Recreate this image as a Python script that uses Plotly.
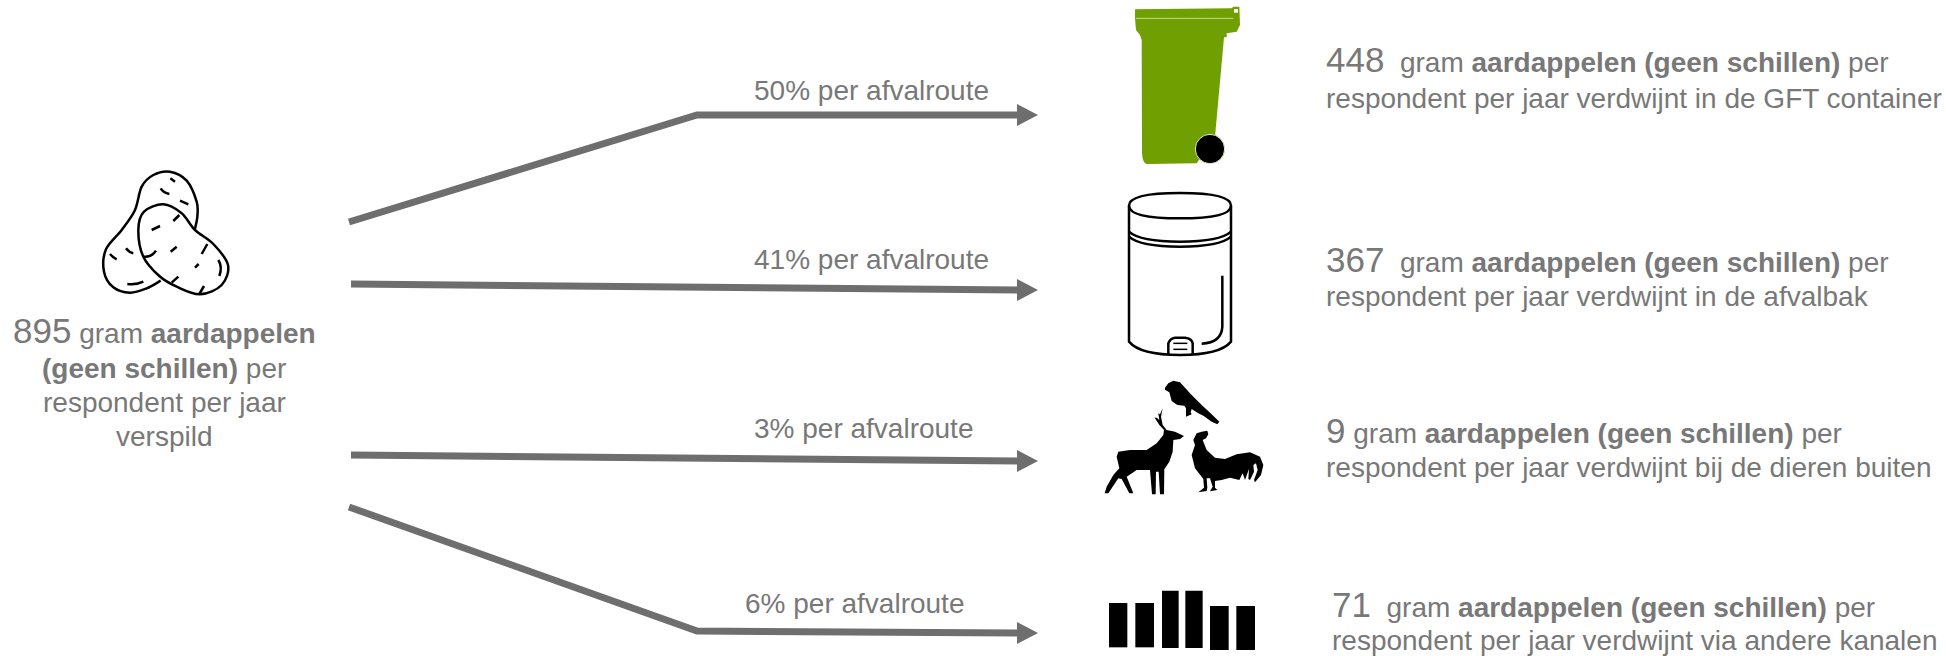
import re
import plotly.graph_objects as go

W, H = 1946, 656
GREY = "#787878"
LINE = "#6e6e6e"
GREEN = "#6f9f00"

# values
total_gram = 895
route_gram = [448, 367, 9, 71]
route_pct = [50, 41, 3, 6]
route_end = [
    "respondent per jaar verdwijnt in de GFT container",
    "respondent per jaar verdwijnt in de afvalbak",
    "respondent per jaar verdwijnt bij de dieren buiten",
    "respondent per jaar verdwijnt via andere kanalen",
]
left_lines = ["(geen schillen)", "respondent per jaar", "verspild"]

# arrows in page pixels
arrow_x = [[349, 697, 1020], [351, 1020], [351, 1020], [349, 697, 1020]]
arrow_y = [[222, 115, 115], [284, 290], [455, 461], [507, 631, 633]]
arrow_tip = [(1038, 115), (1038, 290), (1038, 461), (1038, 633)]
text_x = [1324, 1324, 1324, 1330]
text_y = [59, 259, 430, 604]
text2_y = [98, 296, 467, 640]
num_gap = ["&nbsp; ", "&nbsp; ", " ", "&nbsp; "]
label_x = [752, 752, 752, 743]
label_y = [90, 259, 428, 603]

shapes = []


def conv(d, ox, oy, k=3):
    # path string in zoomed crop coords -> page pixels
    nums = iter(re.findall(r"-?\d+\.?\d*|[A-Za-z]", d))
    out, is_x = [], True
    for tok in nums:
        if tok.isalpha():
            out.append(tok)
            is_x = True
        else:
            val = float(tok) / k + (ox if is_x else oy)
            out.append(f"{val:.2f}")
            is_x = not is_x
    return " ".join(out)


def add(d, ox, oy, fill=None, line=None, lw=2.5):
    shapes.append(dict(
        type="path", xref="x", yref="y", path=conv(d, ox, oy),
        fillcolor=fill if fill else "rgba(0,0,0,0)",
        line=dict(color=line if line else "rgba(0,0,0,0)", width=lw if line else 0),
        layer="above",
    ))


def smooth(pts, closed=False):
    # catmull-rom through the points, as cubic segments
    n = len(pts)
    d = f"M {pts[0][0]} {pts[0][1]}"
    last = n if closed else n - 1
    for i in range(last):
        if closed:
            p0, p1, p2, p3 = pts[(i - 1) % n], pts[i], pts[(i + 1) % n], pts[(i + 2) % n]
        else:
            p0, p1, p2, p3 = pts[max(i - 1, 0)], pts[i], pts[i + 1], pts[min(i + 2, n - 1)]
        c1 = (p1[0] + (p2[0] - p0[0]) / 6, p1[1] + (p2[1] - p0[1]) / 6)
        c2 = (p2[0] - (p3[0] - p1[0]) / 6, p2[1] - (p3[1] - p1[1]) / 6)
        d += f" C {c1[0]:.1f} {c1[1]:.1f} {c2[0]:.1f} {c2[1]:.1f} {p2[0]} {p2[1]}"
    return d + (" Z" if closed else "")


def poly(pts):
    return "M " + " L ".join(f"{x} {y}" for x, y in pts) + " Z"


# potatoes
pot_back = [(482, 392), (440, 415), (390, 428), (340, 412), (312, 365), (318, 298), (365, 240), (405, 180),
            (425, 110), (460, 75), (510, 65), (560, 92), (590, 155), (592, 200), (584, 240)]
pot_front = [(415, 240), (432, 185), (490, 163), (545, 190), (585, 240), (640, 282), (684, 345), (665, 405),
             (600, 433), (530, 410), (478, 378), (430, 320)]
add(smooth(pot_back), 0, 150, line="black")
add(smooth(pot_front, closed=True), 0, 150, line="black")
specks = [
    "M 511 85 L 525 95", "M 482 115 Q 490 128 508 132", "M 540 152 L 565 163", "M 455 240 L 480 228",
    "M 378 295 Q 388 308 400 310", "M 330 312 Q 338 322 350 328", "M 382 402 Q 410 405 430 395",
    "M 520 213 L 538 195", "M 432 320 Q 455 322 468 302", "M 512 305 L 530 290", "M 605 312 L 622 282",
    "M 585 353 L 596 342", "M 655 330 Q 668 350 658 378", "M 515 398 L 535 380", "M 598 432 L 612 408",
]
for s in specks:
    add(s, 0, 150, line="black")

# green bin
add("M 135 28 L 425 25 L 430 20 L 448 20 L 450 75 L 440 95 L 410 100 L 410 112 L 402 112 L 375 410 L 320 490 "
    "L 170 492 Q 158 490 156 460 L 155 120 L 150 105 L 138 90 L 135 55 Z", 1090, 0, fill=GREEN)
add("M 137 55 L 430 55", 1090, 0, line="#c5d89a", lw=1)
add("M 432 27 L 444 27 L 444 38 L 432 38 Z", 1090, 0, fill="white")
shapes.append(dict(type="circle", xref="x", yref="y", x0=1090 + 316 / 3, x1=1090 + 404 / 3, y0=403 / 3, y1=491 / 3,
                   fillcolor="black", line=dict(color="#e6efd0", width=1), layer="above"))

# trash can
add("M 117 77 Q 117 39 270 39 Q 423 39 423 77 Q 423 115 270 115 Q 117 115 117 77 Z", 1090, 180, line="black")
add("M 117 77 L 117 485 Q 150 525 270 525 Q 390 525 423 485 L 423 77", 1090, 180, line="black")
add("M 117 155 Q 150 185 270 185 Q 390 185 423 155", 1090, 180, line="black")
add("M 117 170 Q 150 200 270 200 Q 390 200 423 170", 1090, 180, line="black")
add("M 397 287 L 397 440 Q 395 488 335 491", 1090, 180, line="black")
add("M 235 522 L 235 490 Q 240 475 255 473 L 285 473 Q 305 475 308 490 L 308 522", 1090, 180, line="black")
add("M 250 490 L 292 490", 1090, 180, line="black", lw=1.5)
add("M 250 508 L 292 508", 1090, 180, line="black", lw=1.5)

# animals
bird = [(195, 38), (205, 25), (220, 17), (240, 22), (255, 38), (275, 60), (305, 90), (335, 118), (358, 140), (352, 148),
        (335, 140), (310, 122), (295, 115), (275, 102), (272, 112), (275, 118), (258, 125), (258, 100), (253, 92),
        (232, 90), (215, 78), (208, 52), (195, 44)]
deer = [(14, 355), (20, 335), (40, 300), (58, 280), (50, 245), (55, 230), (90, 225), (140, 225), (170, 205), (190, 180),
        (192, 165), (178, 150), (165, 130), (162, 128), (170, 128), (178, 135), (175, 115), (180, 118), (188, 100),
        (183, 125), (188, 150), (200, 165), (225, 170), (252, 183), (240, 192), (220, 195), (218, 230), (208, 260),
        (193, 283), (192, 358), (180, 358), (176, 290), (168, 290), (167, 358), (156, 358), (150, 285), (110, 285),
        (80, 305), (100, 355), (88, 355), (65, 312), (55, 310), (25, 355)]
rooster = [(280, 195), (290, 175), (305, 170), (322, 167), (325, 178), (318, 190), (308, 195), (320, 225), (345, 248),
           (375, 252), (410, 238), (450, 232), (480, 245), (490, 270), (483, 300), (465, 322), (462, 315), (473, 285),
           (468, 265), (460, 270), (462, 290), (450, 315), (445, 312), (447, 282), (435, 315), (428, 295), (418, 315),
           (390, 308), (365, 315), (345, 318), (345, 338), (352, 345), (330, 349), (338, 335), (330, 310), (320, 310),
           (322, 338), (320, 348), (295, 352), (312, 338), (310, 312), (285, 280), (275, 240), (285, 210)]
for part in (bird, deer, rooster):
    add(poly(part), 1100, 375, fill="black")

# bars icon
bars = [(57, 112, 699, 832), (136, 192, 699, 832), (216, 266, 662, 834), (286, 338, 662, 834), (360, 416, 708, 840),
        (439, 495, 708, 840)]
for x0, x1, y0, y1 in bars:
    add(f"M {x0} {y0} L {x1} {y0} L {x1} {y1} L {x0} {y1} Z", 1090, 370, fill="black")

fig = go.Figure()

for xs, ys, tip in zip(arrow_x, arrow_y, arrow_tip):
    fig.add_trace(go.Scatter(x=xs, y=ys, mode="lines", hoverinfo="skip", showlegend=False,
                             line=dict(color=LINE, width=7, shape="linear")))
    shapes.append(dict(
        type="path", xref="x", yref="y", layer="above",
        path=f"M {tip[0]} {tip[1]} L {tip[0] - 21} {tip[1] - 11} L {tip[0] - 21} {tip[1] + 11} Z",
        fillcolor=LINE, line=dict(width=0),
    ))


def note(x, y, text, anchor="left", size=28):
    fig.add_annotation(x=x, y=y, xref="x", yref="y", text=text, showarrow=False, xanchor=anchor, yanchor="middle",
                       align=anchor, font=dict(family="Liberation Sans", size=size, color=GREY))


def big(n):
    return f'<span style="font-size:35px">{n}</span>'


for i in range(4):
    note(text_x[i], text_y[i], f"{big(route_gram[i])}{num_gap[i]}gram <b>aardappelen (geen schillen)</b> per")
    note(text_x[i], text2_y[i], route_end[i])
    note(label_x[i], label_y[i], f"{route_pct[i]}% per afvalroute")

note(164, 330, f"{big(total_gram)} gram <b>aardappelen</b>", anchor="center")
note(164, 368, f"<b>{left_lines[0]}</b> per", anchor="center")
note(164, 402, left_lines[1], anchor="center")
note(164, 436, left_lines[2], anchor="center")

fig.update_layout(
    width=W, height=H,
    margin=dict(l=0, r=0, t=0, b=0),
    paper_bgcolor="white", plot_bgcolor="white",
    xaxis=dict(range=[0, W], visible=False, fixedrange=True),
    yaxis=dict(range=[H, 0], visible=False, fixedrange=True),
    shapes=shapes,
    showlegend=False,
)
fig.write_html("out.html", config=dict(displayModeBar=False), post_script="document.body.style.margin='0';")
